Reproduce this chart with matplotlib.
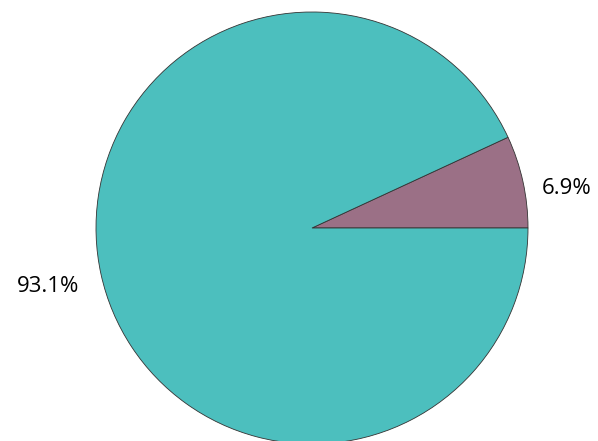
import matplotlib
matplotlib.use("Agg")
import matplotlib.pyplot as plt

labels = ["B", "A"]
values = [6.9, 93.1]
colors = ["#9b7086", "#4cbfbe"]

fig = plt.figure(figsize=(5.98, 4.41), dpi=100)
ax = fig.add_axes([96 / 598, (213 - 216) / 441, 432 / 598, 432 / 441])
wedges, texts, autotexts = ax.pie(
    values, colors=colors, startangle=0, counterclock=True,
    autopct="%.1f%%", pctdistance=1.22,
    wedgeprops=dict(edgecolor="#333333", linewidth=0.6),
    textprops=dict(fontsize=16, color="black", family=["Open Sans", "DejaVu Sans"]))
# nudge labels to where the reference places them
autotexts[0].set_position((1.18, 0.185))
autotexts[1].set_position((-1.22, -0.27))
ax.set_xlim(-1, 1)
ax.set_ylim(-1, 1)
ax.set_aspect("equal")
ax.axis("off")
fig.savefig("out.png", dpi=100)
